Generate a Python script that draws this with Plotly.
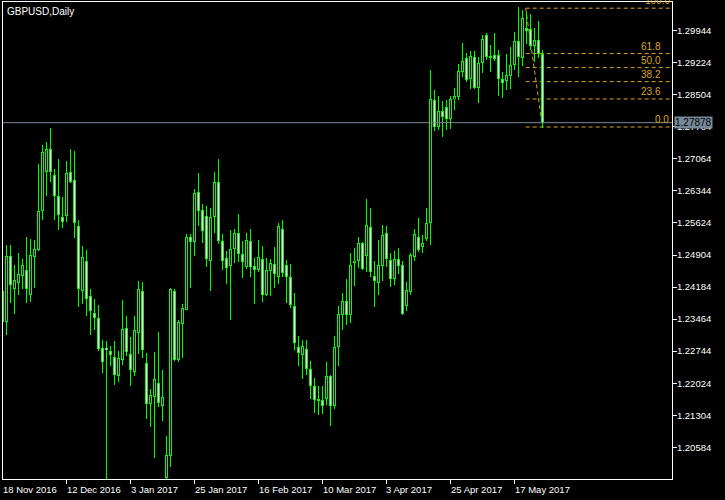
import pandas as pd
import plotly.graph_objects as go

# ---------------- data ----------------
symbol_title = "GBPUSD,Daily"
dates = [d.strftime("%Y-%m-%d") for d in pd.bdate_range("2016-11-18", periods=136)]

opens = [1.2410, 1.2341, 1.2488, 1.2413, 1.2428, 1.2444, 1.2457, 1.2401, 1.2487, 1.2502,
         1.2590, 1.2678, 1.2729, 1.2670, 1.2622, 1.2576, 1.2579, 1.2676, 1.2658, 1.2556,
         1.2410, 1.2477, 1.2398, 1.2360, 1.2349, 1.2281, 1.2282, 1.2275, 1.2261, 1.2219,
         1.2255, 1.2327, 1.2268, 1.2228, 1.2316, 1.2410, 1.2248, 1.2156, 1.2172, 1.2203,
         1.2152, 1.1990, 1.2040, 1.2410, 1.2255, 1.2336, 1.2368, 1.2532, 1.2519, 1.2633,
         1.2591, 1.2577, 1.2478, 1.2576, 1.2654, 1.2521, 1.2483, 1.2466, 1.2505, 1.2539,
         1.2492, 1.2464, 1.2521, 1.2466, 1.2457, 1.2481, 1.2401, 1.2455, 1.2470, 1.2442,
         1.2550, 1.2467, 1.2440, 1.2375, 1.2284, 1.2265, 1.2279, 1.2234, 1.2196, 1.2165,
         1.2164, 1.2168, 1.2219, 1.2152, 1.2284, 1.2356, 1.2388, 1.2356, 1.2473, 1.2478,
         1.2517, 1.2489, 1.2553, 1.2443, 1.2428, 1.2466, 1.2541, 1.2480, 1.2436, 1.2481,
         1.2467, 1.2377, 1.2408, 1.2487, 1.2532, 1.2508, 1.2527, 1.2562, 1.2839, 1.2777,
         1.2814, 1.2823, 1.2795, 1.2840, 1.2846, 1.2902, 1.2932, 1.2885, 1.2935, 1.2865,
         1.2921, 1.2984, 1.2934, 1.2940, 1.2940, 1.2885, 1.2882, 1.2892, 1.2917, 1.2971,
         1.2934, 1.3000, 1.2999, 1.2961, 1.2974, 1.2942]
highs = [1.2416, 1.2513, 1.2513, 1.2468, 1.2496, 1.2482, 1.2532, 1.2526, 1.2524, 1.2696,
         1.2738, 1.2744, 1.2776, 1.2683, 1.2706, 1.2620, 1.2702, 1.2729, 1.2724, 1.2569,
         1.2511, 1.2502, 1.2414, 1.2392, 1.2378, 1.2300, 1.2297, 1.2286, 1.2297, 1.2275,
         1.2389, 1.2353, 1.2306, 1.2353, 1.2432, 1.2430, 1.2270, 1.2189, 1.2273, 1.2318,
         1.2232, 1.2084, 1.2417, 1.2414, 1.2344, 1.2380, 1.2537, 1.2537, 1.2638, 1.2675,
         1.2604, 1.2601, 1.2595, 1.2678, 1.2706, 1.2537, 1.2499, 1.2547, 1.2549, 1.2583,
         1.2522, 1.2539, 1.2549, 1.2483, 1.2524, 1.2511, 1.2484, 1.2481, 1.2509, 1.2563,
         1.2569, 1.2479, 1.2470, 1.2405, 1.2308, 1.2299, 1.2299, 1.2252, 1.2214, 1.2196,
         1.2196, 1.2250, 1.2221, 1.2308, 1.2376, 1.2405, 1.2437, 1.2495, 1.2507, 1.2531,
         1.2520, 1.2616, 1.2596, 1.2477, 1.2524, 1.2558, 1.2556, 1.2494, 1.2500, 1.2506,
         1.2477, 1.2430, 1.2494, 1.2549, 1.2574, 1.2535, 1.2596, 1.2906, 1.2861, 1.2848,
         1.2836, 1.2839, 1.2848, 1.2866, 1.2920, 1.2967, 1.2944, 1.2949, 1.2949, 1.2935,
         1.2985, 1.2989, 1.2962, 1.2989, 1.2951, 1.2902, 1.2942, 1.2958, 1.2992, 1.3048,
         1.3041, 1.3036, 1.3033, 1.3001, 1.3016, 1.2950]
lows = [1.2333, 1.2311, 1.2383, 1.2358, 1.2401, 1.2414, 1.2383, 1.2386, 1.2417, 1.2500,
        1.2569, 1.2623, 1.2655, 1.2569, 1.2547, 1.2552, 1.2565, 1.2653, 1.2529, 1.2374,
        1.2380, 1.2354, 1.2311, 1.2322, 1.2275, 1.2226, 1.1960, 1.2240, 1.2198, 1.2206,
        1.2243, 1.2264, 1.2197, 1.2219, 1.2268, 1.2259, 1.2122, 1.2105, 1.2035, 1.2150,
        1.2118, 1.1984, 1.2015, 1.2253, 1.2249, 1.2260, 1.2366, 1.2417, 1.2489, 1.2556,
        1.2517, 1.2463, 1.2410, 1.2541, 1.2515, 1.2457, 1.2426, 1.2344, 1.2472, 1.2475,
        1.2439, 1.2459, 1.2442, 1.2380, 1.2453, 1.2385, 1.2398, 1.2398, 1.2417, 1.2425,
        1.2440, 1.2383, 1.2371, 1.2277, 1.2241, 1.2213, 1.2221, 1.2166, 1.2136, 1.2131,
        1.2133, 1.2153, 1.2107, 1.2145, 1.2240, 1.2322, 1.2333, 1.2338, 1.2421, 1.2461,
        1.2457, 1.2453, 1.2440, 1.2374, 1.2401, 1.2432, 1.2464, 1.2418, 1.2422, 1.2448,
        1.2356, 1.2365, 1.2401, 1.2478, 1.2497, 1.2496, 1.2523, 1.2513, 1.2770, 1.2771,
        1.2756, 1.2771, 1.2774, 1.2816, 1.2839, 1.2890, 1.2880, 1.2863, 1.2863, 1.2831,
        1.2900, 1.2929, 1.2902, 1.2927, 1.2848, 1.2844, 1.2861, 1.2864, 1.2907, 1.2890,
        1.2914, 1.2965, 1.2951, 1.2925, 1.2932, 1.2776]
closes = [1.2341, 1.2488, 1.2422, 1.2434, 1.2448, 1.2468, 1.2415, 1.2491, 1.2503, 1.2589,
          1.2721, 1.2729, 1.2676, 1.2624, 1.2581, 1.2565, 1.2675, 1.2655, 1.2563, 1.2415,
          1.2486, 1.2392, 1.2365, 1.2349, 1.2279, 1.2249, 1.2277, 1.2266, 1.2221, 1.2259,
          1.2324, 1.2273, 1.2232, 1.2322, 1.2414, 1.2277, 1.2156, 1.2176, 1.2212, 1.2159,
          1.2172, 1.2041, 1.2414, 1.2255, 1.2340, 1.2371, 1.2532, 1.2519, 1.2629, 1.2589,
          1.2545, 1.2482, 1.2575, 1.2654, 1.2523, 1.2478, 1.2462, 1.2505, 1.2539, 1.2493,
          1.2475, 1.2524, 1.2464, 1.2457, 1.2487, 1.2401, 1.2456, 1.2472, 1.2448, 1.2556,
          1.2449, 1.2442, 1.2379, 1.2292, 1.2270, 1.2286, 1.2234, 1.2197, 1.2164, 1.2164,
          1.2152, 1.2219, 1.2152, 1.2284, 1.2358, 1.2388, 1.2356, 1.2469, 1.2478, 1.2517,
          1.2460, 1.2557, 1.2453, 1.2431, 1.2467, 1.2535, 1.2482, 1.2437, 1.2481, 1.2466,
          1.2358, 1.2411, 1.2490, 1.2537, 1.2502, 1.2517, 1.2562, 1.2840, 1.2777, 1.2814,
          1.2800, 1.2795, 1.2841, 1.2847, 1.2904, 1.2926, 1.2884, 1.2938, 1.2866, 1.2921,
          1.2975, 1.2936, 1.2937, 1.2931, 1.2887, 1.2878, 1.2894, 1.2917, 1.2971, 1.2935,
          1.3022, 1.2994, 1.2961, 1.2974, 1.2941, 1.27878]

price_ticks = [1.20584, 1.21304, 1.22024, 1.22744, 1.23464, 1.24184, 1.24904,
               1.25624, 1.26344, 1.27064, 1.27784, 1.28504, 1.29224, 1.29944]
date_tick_values = ["2016-11-18", "2016-12-12", "2017-01-03", "2017-01-25", "2017-02-16",
                    "2017-03-10", "2017-04-03", "2017-04-25", "2017-05-17"]
date_tick_labels = ["18 Nov 2016", "12 Dec 2016", "3 Jan 2017", "25 Jan 2017", "16 Feb 2017",
                    "10 Mar 2017", "3 Apr 2017", "25 Apr 2017", "17 May 2017"]

bid_price = 1.27878
fib_start_date = "2017-05-22"
fib_end_date = "2017-05-26"
fib_high = 1.3045
fib_low = 1.2778
fib_levels = [0.0, 23.6, 38.2, 50.0, 61.8, 100.0]

# ---------------- style ----------------
GREEN = "#00FF00"
FIB = "#DAA520"
BIDC = "#778899"
FONT = "Liberation Sans, Arial, sans-serif"
X_RANGE = [0.125, 167.375]
Y_RANGE = [1.19872, 1.30589]
PLOT_H = 477
PX = (Y_RANGE[1] - Y_RANGE[0]) / PLOT_H   # price per pixel

fig = go.Figure()

# wicks (1px bars, drawn first)
fig.add_trace(go.Bar(x=dates, y=[h - l for h, l in zip(highs, lows)], base=lows, width=0.25,
                     marker=dict(color=GREEN, line=dict(width=0)),
                     hoverinfo="skip", showlegend=False))

# body outlines (green, 3px)
ob, oh = [], []
for o, c in zip(opens, closes):
    lo, hi = min(o, c), max(o, c)
    size = max(hi - lo, PX)
    ob.append((lo + hi) / 2 - size / 2)
    oh.append(size)
fig.add_trace(go.Bar(x=dates, y=oh, base=ob, width=0.75,
                     marker=dict(color=GREEN, line=dict(width=0)),
                     hoverinfo="skip", showlegend=False))

# body interiors (1px): black for up, white for down
for bull in (True, False):
    xs, base, hgt = [], [], []
    for d, o, c in zip(dates, opens, closes):
        if (c >= o) != bull:
            continue
        lo, hi = min(o, c), max(o, c)
        if hi - lo > 2.2 * PX:
            xs.append(d)
            base.append(lo + PX)
            hgt.append(hi - lo - 2 * PX)
    fig.add_trace(go.Bar(x=xs, y=hgt, base=base, width=0.25,
                         marker=dict(color="#000000" if bull else "#FFFFFF", line=dict(width=0)),
                         hoverinfo="skip", showlegend=False))

shapes = []
for lv in fib_levels:
    price = fib_low + (fib_high - fib_low) * lv / 100.0
    shapes.append(dict(type="line", xref="x", yref="y",
                       x0=dates.index(fib_start_date) - 0.2, x1=X_RANGE[1],
                       y0=price, y1=price, layer="below",
                       line=dict(color=FIB, width=1, dash="4px,3px")))
shapes.append(dict(type="line", xref="x", yref="y",
                   x0=dates.index(fib_start_date) - 0.2, y0=fib_high,
                   x1=dates.index(fib_end_date), y1=fib_low, layer="below",
                   line=dict(color=FIB, width=1, dash="4px,3px")))
shapes.append(dict(type="line", xref="paper", yref="y", x0=0, x1=1,
                   y0=bid_price, y1=bid_price, layer="above",
                   line=dict(color=BIDC, width=1)))

annotations = []
annotations.append(dict(text=symbol_title, xref="paper", yref="paper", x=0, y=1,
                        xanchor="left", yanchor="top", xshift=2, yshift=-2,
                        showarrow=False, font=dict(family=FONT, size=10, color="white")))
span = X_RANGE[1] - X_RANGE[0]
for d, lab in zip(date_tick_values, date_tick_labels):
    annotations.append(dict(text=lab, xref="paper", yref="paper",
                            x=(dates.index(d) - X_RANGE[0]) / span, y=0,
                            xanchor="left", yanchor="top", xshift=-2, yshift=-3,
                            showarrow=False, font=dict(family=FONT, size=9.5, color="white")))
fib_xshift = {0.0: -1, 23.6: -9, 38.2: -9, 50.0: -9, 61.8: -9, 100.0: 0}
for lv in fib_levels:
    price = fib_low + (fib_high - fib_low) * lv / 100.0
    annotations.append(dict(text=f"{lv:.1f}", xref="paper", yref="y", x=1, y=price,
                            xanchor="right", yanchor="bottom", xshift=fib_xshift[lv], yshift=0,
                            showarrow=False, font=dict(family=FONT, size=10, color=FIB)))
annotations.append(dict(text=f"{bid_price:.5f}", xref="paper", yref="y", x=1, y=bid_price,
                        xanchor="left", yanchor="middle", xshift=2,
                        showarrow=False, bgcolor=BIDC, borderpad=0,
                        font=dict(family=FONT, size=10, color="black")))

fig.update_layout(
    width=725, height=500,
    margin=dict(l=3, r=53, t=2, b=21),
    paper_bgcolor="black", plot_bgcolor="black",
    showlegend=False, barmode="overlay", bargap=0,
    shapes=shapes, annotations=annotations,
    xaxis=dict(type="category", range=X_RANGE, categoryorder="array", categoryarray=dates,
               showgrid=False, zeroline=False, showline=True, mirror=True,
               linecolor="white", linewidth=1,
               tickmode="array", tickvals=date_tick_values,
               ticktext=[""] * len(date_tick_values),
               ticks="outside", ticklen=4, tickcolor="white", tickwidth=1),
    yaxis=dict(range=Y_RANGE, side="right", showgrid=False, zeroline=False,
               showline=True, mirror=True, linecolor="white", linewidth=1,
               tickmode="array", tickvals=price_ticks,
               ticktext=[f"{v:.5f}" for v in price_ticks],
               ticks="outside", ticklen=4, tickcolor="white", tickwidth=1,
               ticklabelstandoff=-2,
               tickfont=dict(family=FONT, size=9.5, color="white")),
)

fig.write_html("out.html", config={"displayModeBar": False},
               post_script="document.body.style.margin='0px';document.body.style.padding='0px';")
